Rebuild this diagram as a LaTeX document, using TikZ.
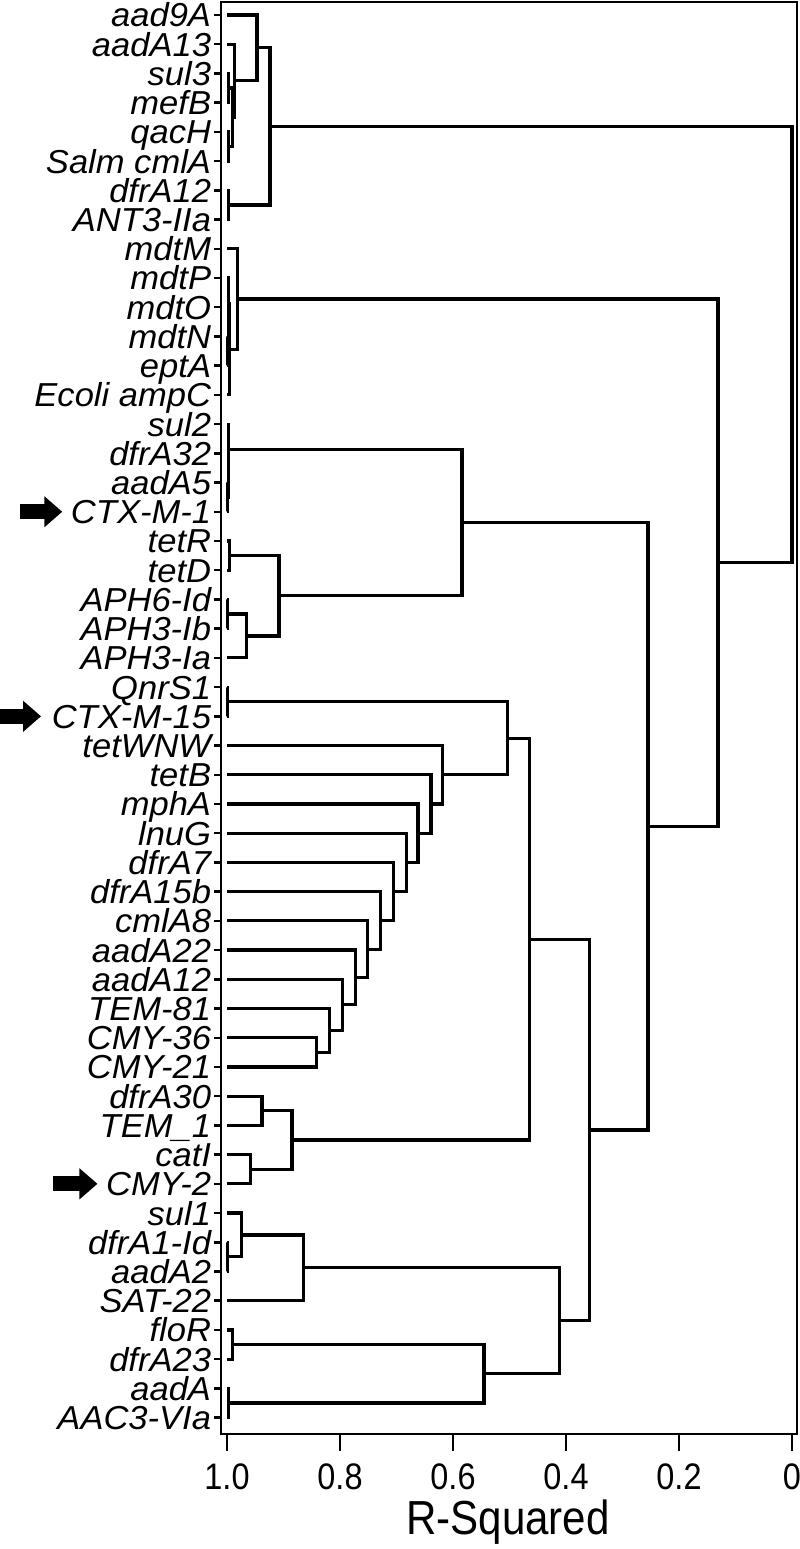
\documentclass[tikz,border=0pt]{standalone}
\usepackage{fontspec}
\setmainfont{Liberation Sans}
\newfontfamily\axisfont[FakeStretch=0.88]{Liberation Sans}
\newfontfamily\genefont[FakeStretch=1.04]{Liberation Sans}
\usetikzlibrary{arrows.meta}

\tikzset{
  link/.style={line width=0.9pt},
  leaf/.style={anchor=east,inner sep=0pt,text height=6.8pt,text depth=0pt,
    font=\genefont\fontsize{9.45}{10}\selectfont\itshape},
  marker/.style={line width=4.3pt,-{Triangle[length=1.8mm,width=3mm]}},
  ticklabel/.style={inner sep=0pt,font=\axisfont\fontsize{10.5}{11}\selectfont}
}

\begin{document}
\begin{tikzpicture}
  \useasboundingbox (0,0) rectangle (8,-15.49);
  % plot frame
  \draw[line width=0.7pt] (2.21,-0.02) rectangle (7.97,-14.34);
  \node[font=\axisfont\fontsize{13.6}{14}\selectfont] (xlabel) at (5.08,-15.22) {R-Squared};

  % x = R-squared, y = leaf index
  \begin{scope}[shift={(7.92,-0.15)}, x=-5.65cm, y=-0.2922cm]
    \foreach \g [count=\i from 0] in {aad9A, aadA13, sul3, mefB, qacH, Salm cmlA,
        dfrA12, ANT3-IIa, mdtM, mdtP, mdtO, mdtN, eptA, Ecoli ampC, sul2, dfrA32,
        aadA5, CTX-M-1, tetR, tetD, APH6-Id, APH3-Ib, APH3-Ia, QnrS1, CTX-M-15,
        tetWNW, tetB, mphA, lnuG, dfrA7, dfrA15b, cmlA8, aadA22, aadA12, TEM-81,
        CMY-36, CMY-21, dfrA30, TEM\_1, catI, CMY-2, sul1, dfrA1-Id, aadA2, SAT-22,
        floR, dfrA23, aadA, AAC3-VIa} {
      \coordinate (p\i) at (1,\i);
      \node[leaf] (g\i) at (1.027,\i) {\g};
      \draw[line width=0.7pt] (1.023,\i) -- (1.0106,\i);
    }

    % merges, bottom up: name/height/index/child/child
    \foreach \n/\r/\k/\a/\b in {a1/0.998/2.5/p2/p3, a2/0.998/4.5/p4/p5,
        a3/0.991/3.5/a1/a2, a4/0.986/2.25/p1/a3, a5/0.947/1.125/p0/a4,
        a6/0.998/6.5/p6/p7, a7/0.924/3.8125/a5/a6,
        m1/0.999/11.5/p11/p12, m2/0.998/10.75/p10/m1, m3/0.997/9.875/p9/m2,
        m4/0.995/11.4375/m3/p13, m5/0.981/9.71875/p8/m4,
        s1/0.999/16.5/p16/p17, s2/0.998/15.75/p15/s1, s3/0.997/14.875/p14/s2,
        t1/0.995/18.5/p18/p19, t2/0.999/20.5/p20/p21, t3/0.966/21.25/t2/p22,
        t4/0.908/19.875/t1/t3, s4/0.584/17.375/s3/t4,
        q1/0.999/23.5/p23/p24,
        c1/0.842/35.5/p35/p36, c2/0.819/34.75/p34/c1, c3/0.796/33.875/p33/c2,
        c4/0.773/32.9375/p32/c3, c5/0.752/31.96875/p31/c4, c6/0.729/30.984/p30/c5,
        c7/0.706/29.992/p29/c6, c8/0.683/28.996/p28/c7, c9/0.662/27.998/p27/c8,
        c10/0.639/26.999/p26/c9, c11/0.618/26.0/p25/c10, q2/0.504/24.75/q1/c11,
        d1/0.938/37.5/p37/p38, d2/0.959/39.5/p39/p40, d3/0.885/38.5/d1/d2,
        q3/0.464/31.625/q2/d3,
        e1/0.999/42.5/p42/p43, e2/0.975/41.75/p41/e1, e3/0.864/42.875/e2/p44,
        f1/0.991/45.5/p45/p46, f2/0.998/47.5/p47/p48, f3/0.545/46.5/f1/f2,
        e4/0.412/44.6875/e3/f3, g1/0.359/38.156/q3/e4,
        h1/0.255/27.766/s4/g1, h2/0.131/18.742/m5/h1, root/0.0/11.277/a7/h2} {
      \coordinate (\n) at (\r,\k);
      \draw[link] (\a) -| (\n) |- (\b);
    }

    % axis ticks
    \foreach \x/\l in {1/1.0, 0.8/0.8, 0.6/0.6, 0.4/0.4, 0.2/0.2, 0/0}
      \draw[line width=0.7pt] (\x,48.56) -- (\x,49.14) node[ticklabel,below=0.12cm] {\l};

    % highlighted genes
    \coordinate (m17) at (1.3664,17);
    \coordinate (m24) at (1.4018,24);
    \coordinate (m40) at (1.3080,40);
    \draw[marker] (m17) -- ([xshift=-0.08cm]g17.west);
    \draw[marker] (m24) -- ([xshift=-0.10cm]g24.west);
    \draw[marker] (m40) -- ([xshift=-0.08cm]g40.west);
  \end{scope}
\end{tikzpicture}
\end{document}
